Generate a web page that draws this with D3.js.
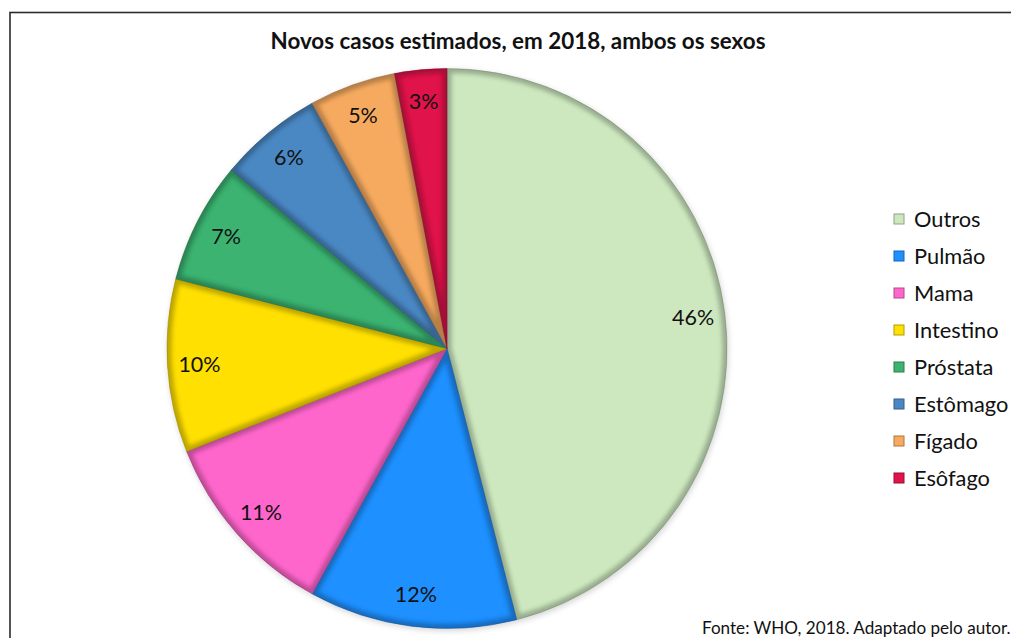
<!DOCTYPE html>
<html>
<head>
<meta charset="utf-8">
<script src="https://cdn.jsdelivr.net/npm/d3@7"></script>
<style>
  html, body { margin: 0; padding: 0; background: #fff; }
  svg { display: block; }
</style>
</head>
<body>
<div id="chart"></div>
<script>
// Estimated new cancer cases, 2018, both sexes (share of total, %)
const categories = ["Outros", "Pulmão", "Mama", "Intestino", "Próstata", "Estômago", "Fígado", "Esôfago"];
const values = [46, 12, 11, 10, 7, 6, 5, 3];
const colors = ["#cde8bf", "#1e90ff", "#ff66cc", "#ffe000", "#3cb371", "#4a88c4", "#f6aa5f", "#e0134a"];
const title = "Novos casos estimados, em 2018, ambos os sexos";
const source = "Fonte: WHO, 2018. Adaptado pelo autor.";

const W = 1011, H = 638;
const FONT = "Lato, Carlito, Calibri, 'Open Sans', sans-serif";

const svg = d3.select("#chart").append("svg")
  .attr("width", W).attr("height", H);

const defs = svg.append("defs");
defs.append("filter").attr("id", "soft")
  .attr("x", "-20%").attr("y", "-20%").attr("width", "140%").attr("height", "140%")
  .append("feGaussianBlur").attr("stdDeviation", 2.2);
const shadow = defs.append("filter").attr("id", "shadow")
  .attr("x", "-10%").attr("y", "-10%").attr("width", "120%").attr("height", "120%");
shadow.append("feGaussianBlur").attr("stdDeviation", 3);

// chart frame
svg.append("rect")
  .attr("x", 10).attr("y", 12.5)
  .attr("width", W + 20).attr("height", H + 20)
  .attr("fill", "none").attr("stroke", "#2b2b2b").attr("stroke-width", 1.6);

svg.append("text")
  .attr("x", 518).attr("y", 49)
  .attr("text-anchor", "middle")
  .attr("font-family", FONT).attr("font-weight", 700).attr("font-size", 22.4)
  .attr("fill", "#111")
  .text(title);

const cx = 447, cy = 348.5, R = 280;
const data = categories.map((c, i) => ({ name: c, value: values[i], color: colors[i] }));

const pie = d3.pie().value(d => d.value).sort(null);
const arcs = pie(data);
const arc = d3.arc().innerRadius(0).outerRadius(R);
const labelArc = d3.arc().innerRadius(248).outerRadius(248);

const g = svg.append("g").attr("transform", `translate(${cx},${cy})`);

// soft shadow under the pie
g.append("circle").attr("r", R).attr("cx", 1).attr("cy", 2)
  .attr("fill", "#000").attr("opacity", 0.18).attr("filter", "url(#shadow)");

arcs.forEach((a, i) => {
  const id = "clip" + i;
  defs.append("clipPath").attr("id", id).append("path").attr("d", arc(a));
  const s = g.append("g");
  s.append("path").attr("d", arc(a)).attr("fill", a.data.color);
  // bevelled inner edge
  s.append("g").attr("clip-path", `url(#${id})`)
    .append("path").attr("d", arc(a))
    .attr("fill", "none")
    .attr("stroke", d3.color(a.data.color).darker(1.4))
    .attr("stroke-width", 9)
    .attr("stroke-linejoin", "round")
    .attr("opacity", 0.65)
    .attr("filter", "url(#soft)");
  s.append("path").attr("d", arc(a))
    .attr("fill", "none")
    .attr("stroke", d3.color(a.data.color).darker(1.6))
    .attr("stroke-opacity", 0.6)
    .attr("stroke-width", 0.8);
});

g.selectAll("text.lbl").data(arcs).join("text")
  .attr("class", "lbl")
  .attr("transform", d => `translate(${labelArc.centroid(d)})`)
  .attr("text-anchor", "middle")
  .attr("dy", "0.36em")
  .attr("font-family", FONT).attr("font-size", 21.5)
  .attr("fill", "#111")
  .text(d => d.data.value + "%");

// legend
const legend = svg.append("g").attr("transform", "translate(894,219)");
const rowH = 37;
data.forEach((d, i) => {
  const row = legend.append("g").attr("transform", `translate(0,${i * rowH})`);
  row.append("rect").attr("x", 0).attr("y", -5).attr("width", 10).attr("height", 10)
    .attr("fill", d.color)
    .attr("stroke", d3.color(d.color).darker(1)).attr("stroke-width", 1);
  row.append("text").attr("x", 20).attr("y", 0).attr("dy", "0.36em")
    .attr("font-family", FONT).attr("font-size", 21.8).attr("fill", "#111")
    .text(d.name);
});

svg.append("text")
  .attr("x", 702).attr("y", 634)
  .attr("font-family", FONT).attr("font-size", 17.1).attr("fill", "#111")
  .text(source);
</script>
</body>
</html>
